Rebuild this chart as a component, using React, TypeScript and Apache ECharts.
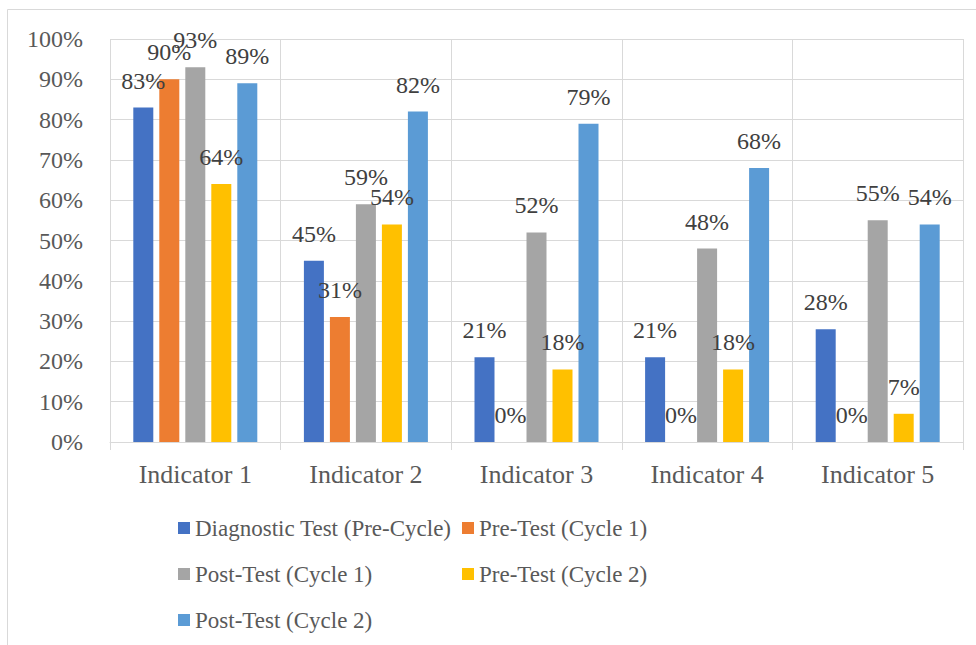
import React, { useEffect, useRef } from "react";
import * as echarts from "echarts";

const categories = ["Indicator 1", "Indicator 2", "Indicator 3", "Indicator 4", "Indicator 5"];
const seriesNames = [
  "Diagnostic Test (Pre-Cycle)",
  "Pre-Test (Cycle 1)",
  "Post-Test (Cycle 1)",
  "Pre-Test (Cycle 2)",
  "Post-Test (Cycle 2)",
];
const diagnostic = [83, 45, 21, 21, 28];
const preCycle1 = [90, 31, 0, 0, 0];
const postCycle1 = [93, 59, 52, 48, 55];
const preCycle2 = [64, 54, 18, 18, 7];
const postCycle2 = [89, 82, 79, 68, 54];
const seriesValues = [diagnostic, preCycle1, postCycle1, preCycle2, postCycle2];
const colors = ["#4472C4", "#ED7D31", "#A5A5A5", "#FFC000", "#5B9BD5"];

const FONT = "Liberation Serif";

export default function App() {
  const ref = useRef<HTMLDivElement>(null);
  useEffect(() => {
    if (!ref.current) return;
    const chart = echarts.init(ref.current, undefined, { renderer: "svg" });
    const legendPos = [
      { left: 178, top: 516 },
      { left: 462, top: 516 },
      { left: 178, top: 562 },
      { left: 462, top: 562 },
      { left: 178, top: 608 },
    ];
    chart.setOption({
      animation: false,
      backgroundColor: "#ffffff",
      textStyle: { fontFamily: FONT },
      graphic: [
        {
          type: "rect",
          shape: { x: 7.5, y: 9.5, width: 2000, height: 2000 },
          style: { fill: "none", stroke: "#d9d9d9", lineWidth: 1 },
          silent: true,
        },
      ],
      grid: { left: 110, right: 13, top: 39, bottom: 203 },
      legend: seriesNames.map((n, i) => ({
        data: [n],
        left: legendPos[i].left,
        top: legendPos[i].top,
        padding: 0,
        icon: "rect",
        itemWidth: 12,
        itemHeight: 12,
        textStyle: { fontFamily: FONT, fontSize: 23, color: "#595959", lineHeight: 24 },
      })),
      xAxis: {
        type: "category",
        data: categories,
        axisLine: { show: true, lineStyle: { color: "#d9d9d9", width: 1 } },
        axisTick: { show: true, length: 8, lineStyle: { color: "#d9d9d9" } },
        splitLine: { show: true, lineStyle: { color: "#d9d9d9", width: 1 } },
        axisLabel: { fontFamily: FONT, fontSize: 26, color: "#595959", margin: 19 },
      },
      yAxis: {
        type: "value",
        min: 0,
        max: 100,
        interval: 10,
        axisLine: { show: false },
        axisTick: { show: false },
        splitLine: { show: true, lineStyle: { color: "#d9d9d9", width: 1 } },
        axisLabel: {
          fontFamily: FONT,
          fontSize: 24,
          color: "#595959",
          margin: 27,
          formatter: "{value}%",
        },
      },
      series: seriesNames.map((n, i) => ({
        name: n,
        type: "bar",
        data: seriesValues[i],
        barWidth: 20,
        barGap: "30%",
        itemStyle: { color: colors[i] },
        label: {
          show: true,
          position: "top",
          distance: 15,
          formatter: "{c}%",
          fontFamily: FONT,
          fontSize: 24,
          color: "#404040",
        },
      })),
    });
    return () => chart.dispose();
  }, []);
  return (
    <div
      ref={ref}
      style={{ position: "fixed", left: 0, top: 0, width: 976, height: 645, background: "#fff" }}
    />
  );
}
